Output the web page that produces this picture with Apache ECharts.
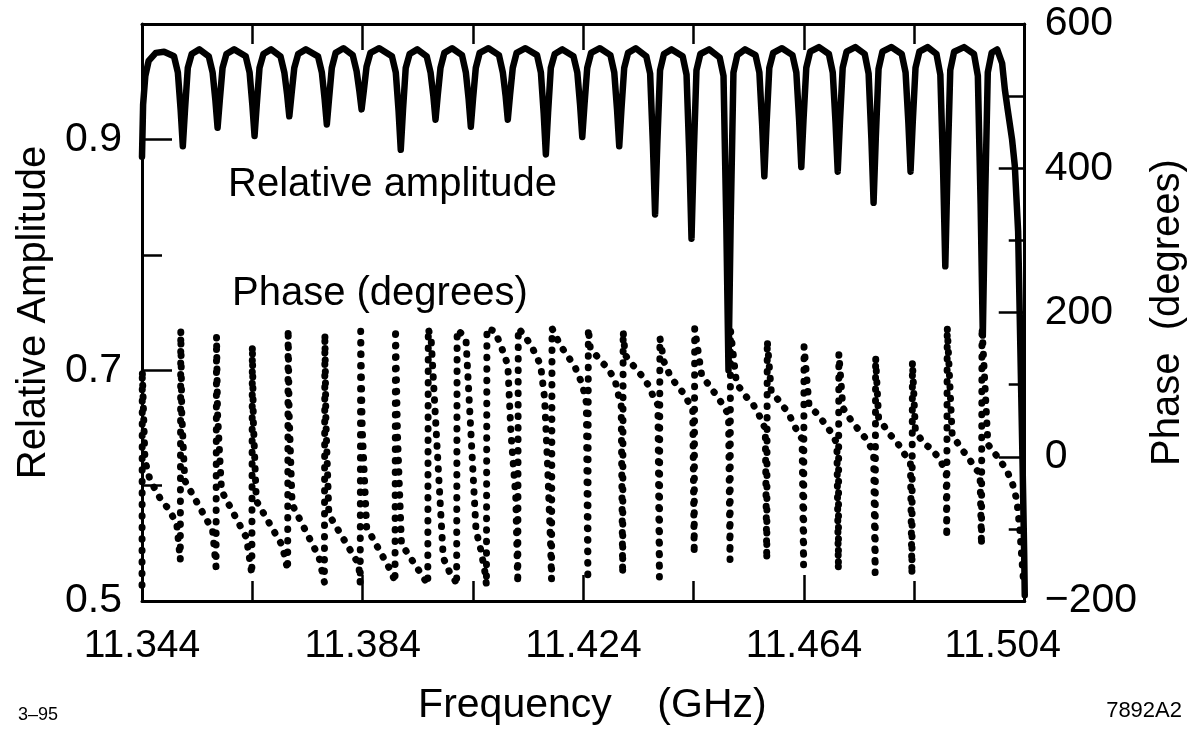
<!DOCTYPE html>
<html><head><meta charset="utf-8">
<script src="https://cdn.jsdelivr.net/npm/echarts@6/dist/echarts.min.js"></script>
<style>html,body{margin:0;padding:0;background:#fff}#c{width:1196px;height:731px}</style>
</head><body><div id="c"></div>
<script>
const FONT = '"Liberation Sans", Arial, Helvetica, sans-serif';

// axis ranges and tick labels
const freqRange = [11.344, 11.504];
const freqLabelStep = 0.04;
const ampRange = [0.5, 1.0];
const ampLabelValues = [0.5, 0.7, 0.9];
const ampMinorTickValues = [0.6, 0.8];
const phaseRange = [-200, 600];
const phaseLabelStep = 200;

// Relative amplitude: [frequency GHz, relative amplitude]
const amplitudePoints = [
[11.3440,0.885],[11.3442,0.930],[11.3446,0.955],[11.3452,0.968],[11.3465,0.975],[11.3480,0.976],
[11.3498,0.972],[11.3505,0.958],[11.3510,0.926],[11.3514,0.894],[11.3518,0.926],[11.3523,0.962],[11.3530,0.974],[11.3544,0.978],
[11.3561,0.972],[11.3568,0.958],[11.3573,0.934],[11.3577,0.910],[11.3581,0.934],[11.3586,0.962],[11.3593,0.974],[11.3607,0.978],
[11.3628,0.972],[11.3635,0.958],[11.3640,0.930],[11.3644,0.903],[11.3648,0.930],[11.3653,0.962],[11.3660,0.974],[11.3674,0.978],
[11.3691,0.972],[11.3698,0.958],[11.3703,0.939],[11.3707,0.920],[11.3711,0.939],[11.3716,0.962],[11.3723,0.974],[11.3737,0.978],
[11.3759,0.972],[11.3766,0.958],[11.3771,0.935],[11.3775,0.913],[11.3779,0.935],[11.3784,0.962],[11.3791,0.975],[11.3805,0.979],
[11.3822,0.973],[11.3829,0.959],[11.3834,0.942],[11.3838,0.926],[11.3842,0.942],[11.3847,0.963],[11.3854,0.975],[11.3870,0.979],
[11.3893,0.972],[11.3900,0.958],[11.3905,0.925],[11.3909,0.891],[11.3913,0.925],[11.3918,0.962],[11.3925,0.974],[11.3939,0.978],
[11.3956,0.972],[11.3963,0.958],[11.3968,0.938],[11.3972,0.917],[11.3976,0.938],[11.3981,0.962],[11.3988,0.975],[11.4002,0.979],
[11.4020,0.973],[11.4027,0.958],[11.4032,0.935],[11.4036,0.911],[11.4040,0.935],[11.4045,0.962],[11.4052,0.975],[11.4068,0.979],
[11.4087,0.973],[11.4094,0.958],[11.4099,0.938],[11.4103,0.917],[11.4107,0.938],[11.4112,0.962],[11.4119,0.975],[11.4135,0.979],
[11.4156,0.973],[11.4163,0.958],[11.4168,0.923],[11.4172,0.887],[11.4176,0.923],[11.4181,0.962],[11.4188,0.974],[11.4202,0.978],
[11.4222,0.972],[11.4229,0.958],[11.4234,0.930],[11.4238,0.902],[11.4242,0.930],[11.4247,0.962],[11.4254,0.975],[11.4270,0.979],
[11.4289,0.973],[11.4296,0.958],[11.4301,0.926],[11.4305,0.894],[11.4309,0.926],[11.4314,0.962],[11.4321,0.975],[11.4335,0.979],
[11.4354,0.972],[11.4361,0.957],[11.4366,0.896],[11.4370,0.835],[11.4374,0.896],[11.4379,0.960],[11.4386,0.974],[11.4400,0.978],
[11.4420,0.972],[11.4427,0.956],[11.4432,0.886],[11.4436,0.814],[11.4440,0.886],[11.4445,0.960],[11.4452,0.974],[11.4468,0.978],
[11.4487,0.971],[11.4494,0.955],[11.4499,0.829],[11.4503,0.700],[11.4507,0.829],[11.4512,0.958],[11.4519,0.973],[11.4533,0.978],
[11.4552,0.973],[11.4559,0.958],[11.4564,0.913],[11.4568,0.868],[11.4572,0.913],[11.4577,0.962],[11.4584,0.975],[11.4600,0.979],
[11.4619,0.973],[11.4626,0.958],[11.4631,0.917],[11.4635,0.876],[11.4639,0.917],[11.4644,0.962],[11.4651,0.976],[11.4667,0.980],
[11.4685,0.974],[11.4692,0.958],[11.4697,0.915],[11.4701,0.872],[11.4705,0.915],[11.4710,0.962],[11.4717,0.976],[11.4733,0.980],
[11.4750,0.974],[11.4757,0.957],[11.4762,0.901],[11.4766,0.845],[11.4770,0.901],[11.4775,0.961],[11.4782,0.976],[11.4798,0.980],
[11.4817,0.974],[11.4824,0.958],[11.4829,0.915],[11.4833,0.872],[11.4837,0.915],[11.4842,0.962],[11.4849,0.976],[11.4864,0.980],
[11.4880,0.974],[11.4887,0.956],[11.4892,0.874],[11.4896,0.790],[11.4900,0.874],[11.4905,0.960],[11.4912,0.976],[11.4930,0.980],
[11.4948,0.974],[11.4955,0.955],[11.4960,0.844],[11.4964,0.730],[11.4968,0.844],[11.4973,0.958],[11.4980,0.975],[11.4990,0.978],
[11.4999,0.966],[11.5004,0.943],[11.5009,0.926],[11.5017,0.900],[11.5022,0.877],[11.5028,0.820],
[11.5032,0.720],[11.5036,0.620],[11.5039,0.540],[11.5040,0.505]
];

// Phase: [frequency GHz, degrees]
const phasePoints = [
[11.34400,-178],[11.34405,120],[11.34454,-5],[11.34544,-32],[11.34724,-57],[11.34905,-75],[11.35031,-94],
[11.35094,-143],[11.35103,175],[11.35121,60],[11.35175,-33],[11.35679,-102],
[11.35742,-153],[11.35751,167],[11.35769,60],[11.35841,-47],[11.36292,-112],
[11.36391,-163],[11.36400,154],[11.36418,50],[11.36472,-61],[11.36941,-123],
[11.37040,-157],[11.37049,177],[11.37067,60],[11.37121,-66],[11.37607,-139],
[11.37706,-174],[11.37715,171],[11.37733,50],[11.37787,-80],[11.38328,-149],
[11.38355,-175],[11.38364,174],[11.38391,40],[11.38472,-98],[11.38923,-160],
[11.38986,-174],[11.38995,178],[11.39031,30],[11.39103,-121],[11.39463,-163],
[11.39580,-177],[11.39589,178],[11.39643,160],[11.39751,10],[11.39860,-140],[11.39986,-162],[11.40076,-172],
[11.40103,-178],[11.40112,176],[11.40202,170],[11.40274,160],[11.40364,30],[11.40454,-102],[11.40544,-130],[11.40616,-160],
[11.40643,-178],[11.40652,178],[11.40796,174],[11.40905,154],[11.41031,127],[11.41085,36],[11.41175,-57],[11.41202,-150],
[11.41211,-176],[11.41220,178],[11.41337,168],[11.41481,150],[11.41625,127],[11.41697,81],[11.41751,-11],[11.41805,-120],
[11.41823,-170],[11.41832,178],[11.41986,154],[11.42148,136],[11.42256,123],[11.42382,100],[11.42454,75],
[11.42481,-171],[11.42490,178],[11.42526,150],[11.42706,134],[11.42868,120],[11.42977,105],[11.43049,81],[11.43085,72],
[11.43112,-163],[11.43121,174],[11.43157,141],[11.43319,125],[11.43463,112],[11.43589,98],[11.43679,81],[11.43751,72],
[11.43778,-167],[11.43787,165],[11.43860,132],[11.43968,113],[11.44094,99],[11.44238,86],[11.44328,72],[11.44382,65],
[11.44409,-135],[11.44418,178],[11.44544,113],[11.44688,98],[11.44850,81],[11.44959,68],[11.45031,58],
[11.45058,-143],[11.45067,175],[11.45175,102],[11.45319,86],[11.45481,72],[11.45589,57],[11.45661,44],[11.45697,40],
[11.45724,-143],[11.45733,161],[11.45805,91],[11.45950,77],[11.46112,61],[11.46220,44],[11.46310,30],[11.46364,25],
[11.46391,-150],[11.46400,153],[11.46490,72],[11.46652,58],[11.46796,44],[11.46923,30],[11.46995,18],
[11.47022,-157],[11.47031,143],[11.47103,68],[11.47247,51],[11.47391,37],[11.47553,22],[11.47643,8],[11.47661,5],
[11.47688,-161],[11.47697,138],[11.47751,54],[11.47932,33],[11.48094,19],[11.48202,6],[11.48292,-5],[11.48328,-8],
[11.48355,-164],[11.48364,132],[11.48418,36],[11.48562,19],[11.48724,10],[11.48869,-5],[11.48959,-19],[11.48977,-22],
[11.48986,-112],[11.48995,180],[11.49085,30],[11.49265,10],[11.49409,-5],[11.49535,-19],[11.49589,-22],
[11.49616,-123],[11.49625,180],[11.49733,17],[11.49914,-1],[11.50076,-19],[11.50184,-39],[11.50256,-60],[11.50310,-100],[11.50346,-140],[11.50382,-177]
];

const chart = echarts.init(document.getElementById('c'), null, {renderer: 'canvas'});
const tickStyle = {color: '#000', width: 2.5};
const frameLine = {color: '#000', width: 3};
const labelBase = {color: '#000', fontFamily: FONT};

const xCommon = {
  type: 'value', min: freqRange[0], max: freqRange[1], interval: freqLabelStep,
  splitLine: {show: false},
  axisLine: {show: true, onZero: false, lineStyle: frameLine},
  axisTick: {show: true, inside: true, length: 26, lineStyle: tickStyle},
  minorTick: {show: true, splitNumber: 2, length: 20, lineStyle: tickStyle},
  minorSplitLine: {show: false}
};

chart.setOption({
  animation: false,
  backgroundColor: '#fff',
  grid: {left: 142, right: 166, top: 24, bottom: 127, containLabel: false},
  xAxis: [
    Object.assign({}, xCommon, {
      position: 'bottom',
      axisLabel: Object.assign({}, labelBase, {
        fontSize: 39, margin: 26, showMinLabel: true, showMaxLabel: true,
        formatter: function (v) {
          const s = v.toFixed(3);
          return Math.abs(v - freqRange[1]) < 1e-6 ? '{last|' + s + '}' : s;
        },
        rich: {last: {fontSize: 39, fontFamily: FONT, color: '#000', padding: [0, 44, 0, 0]}}
      }),
      name: 'Frequency    (GHz)', nameLocation: 'middle', nameGap: 84,
      nameTextStyle: Object.assign({}, labelBase, {fontSize: 41, padding: [0, 0, 0, 18]})
    }),
    Object.assign({}, xCommon, {position: 'top', axisLabel: {show: false}})
  ],
  yAxis: [
    {
      type: 'value', position: 'left', min: ampRange[0], max: ampRange[1], interval: 0.2,
      splitLine: {show: false},
      axisLine: {show: true, onZero: false, lineStyle: frameLine},
      axisTick: {show: true, inside: true, length: 30, lineStyle: tickStyle, customValues: ampLabelValues},
      axisLabel: Object.assign({}, labelBase, {fontSize: 41, margin: 20, customValues: ampLabelValues,
        formatter: function (v) { return v > 0.95 ? '' : v.toFixed(1); }}),
      name: 'Relative Amplitude', nameLocation: 'middle', nameGap: 85,
      nameTextStyle: Object.assign({}, labelBase, {fontSize: 40})
    },
    {
      type: 'value', position: 'right', min: phaseRange[0], max: phaseRange[1], interval: phaseLabelStep,
      splitLine: {show: false},
      axisLine: {show: true, onZero: false, lineStyle: frameLine},
      axisTick: {show: true, inside: true, length: 26, lineStyle: tickStyle},
      minorTick: {show: true, splitNumber: 2, length: 16, lineStyle: tickStyle},
      minorSplitLine: {show: false},
      axisLabel: Object.assign({}, labelBase, {fontSize: 41, margin: 20,
        formatter: function (v) { return v < 0 ? '\u2212' + Math.abs(v) : String(v); }}),
      name: 'Phase  (degrees)', nameLocation: 'middle', nameGap: 118,
      nameTextStyle: Object.assign({}, labelBase, {fontSize: 40})
    },
    {
      type: 'value', position: 'left', offset: 0, min: ampRange[0], max: ampRange[1],
      splitLine: {show: false},
      axisLine: {show: false, onZero: false},
      axisLabel: {show: false},
      axisTick: {show: true, inside: true, length: 20, lineStyle: tickStyle, customValues: ampMinorTickValues}
    }
  ],
  graphic: [
    {type: 'text', left: 228, top: 165, style: {text: 'Relative amplitude', font: '40px ' + FONT, fill: '#000'}},
    {type: 'text', left: 232, top: 274, style: {text: 'Phase (degrees)', font: '40px ' + FONT, fill: '#000'}},
    {type: 'text', left: 18, top: 706, style: {text: '3\u201395', font: '18px ' + FONT, fill: '#000'}},
    {type: 'text', right: 14, top: 700, style: {text: '7892A2', font: '22px ' + FONT, fill: '#000'}}
  ],
  series: [
    {
      name: 'Relative amplitude', type: 'line', xAxisIndex: 0, yAxisIndex: 0,
      data: amplitudePoints, showSymbol: false, symbol: 'none', smooth: false,
      lineStyle: {color: '#000', width: 6.5, join: 'round', cap: 'round'}, z: 3
    },
    {
      name: 'Phase (degrees)', type: 'line', xAxisIndex: 0, yAxisIndex: 1,
      data: phasePoints, showSymbol: false, symbol: 'none', smooth: false,
      lineStyle: {color: '#000', width: 7, type: [0.5, 11], cap: 'round', join: 'round'}, z: 2
    }
  ]
});
</script></body></html>
